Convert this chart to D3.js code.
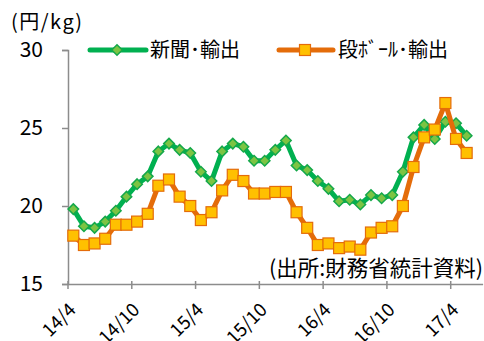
<!DOCTYPE html>
<html>
<head>
<meta charset="utf-8">
<script src="https://cdn.jsdelivr.net/npm/d3@7"></script>
<style>
  body { margin: 0; background: #fff; }
  svg { display: block; }
  text { font-family: "Noto Sans CJK JP", "Noto Sans", sans-serif; fill: #000; }
</style>
</head>
<body>
<div id="chart"></div>
<script>
// monthly categories, 14/4 .. 17/6 (last one is empty)
const months = [
  "14/4","14/5","14/6","14/7","14/8","14/9","14/10","14/11","14/12","15/1","15/2","15/3",
  "15/4","15/5","15/6","15/7","15/8","15/9","15/10","15/11","15/12","16/1","16/2","16/3",
  "16/4","16/5","16/6","16/7","16/8","16/9","16/10","16/11","16/12","17/1","17/2","17/3",
  "17/4","17/5","17/6"
];
const tickLabels = ["14/4", "14/10", "15/4", "15/10", "16/4", "16/10", "17/4"];
const yTicks = [15, 20, 25, 30];

const newsprint = [
  19.8, 18.7, 18.6, 19.0, 19.7, 20.6, 21.4, 21.9, 23.5, 24.0, 23.6, 23.4,
  22.2, 21.6, 23.5, 24.0, 23.8, 22.9, 22.9, 23.6, 24.2, 22.6, 22.3, 21.6,
  21.1, 20.3, 20.4, 20.1, 20.7, 20.5, 20.7, 22.2, 24.4, 25.2, 24.3, 25.4,
  25.3, 24.5
];
const cardboard = [
  18.1, 17.5, 17.6, 17.9, 18.8, 18.8, 19.0, 19.5, 21.3, 21.7, 20.6, 20.0,
  19.1, 19.6, 21.0, 22.0, 21.6, 20.8, 20.8, 20.9, 20.9, 19.6, 18.6, 17.5,
  17.6, 17.3, 17.4, 17.2, 18.3, 18.6, 18.7, 20.0, 22.5, 24.4, 24.9, 26.6,
  24.3, 23.4
];
const seriesNames = ["新聞･輸出", "段ﾎﾞｰﾙ･輸出"];

const W = 484, H = 341;
const svg = d3.select("#chart").append("svg")
  .attr("width", W).attr("height", H);

const x = d3.scaleBand().domain(months).range([68, 482.6]).padding(0);
const y = d3.scaleLinear().domain([15, 30]).range([284, 50]);
const cx = (i) => x(months[i]) + x.bandwidth() / 2;

const axisColor = "#8c8c8c";

// y axis
const yAxis = svg.append("g")
  .attr("transform", "translate(68,0)")
  .call(d3.axisLeft(y).tickValues(yTicks).tickSize(6).tickPadding(19));
yAxis.select(".domain").attr("stroke", axisColor).attr("stroke-width", 1.5);
yAxis.selectAll(".tick line").attr("stroke", axisColor).attr("stroke-width", 1.5);
yAxis.selectAll(".tick text")
  .attr("font-size", "21px")
  .attr("font-family", "'Noto Sans CJK JP', sans-serif")
  .attr("fill", "#000");

// x axis
const xAxis = svg.append("g")
  .attr("transform", "translate(0,284)")
  .call(d3.axisBottom(x).tickValues(tickLabels).tickSize(5).tickSizeOuter(0));
xAxis.select(".domain").attr("stroke", axisColor).attr("stroke-width", 1.5);
xAxis.selectAll(".tick").attr("transform", (d) => `translate(${x(d)},0)`);
xAxis.selectAll(".tick line").attr("stroke", axisColor).attr("stroke-width", 1.5).attr("y1", -3);
xAxis.selectAll(".tick text")
  .attr("font-size", "18.5px")
  .attr("font-family", "'Noto Sans CJK JP', sans-serif")
  .attr("fill", "#000")
  .attr("text-anchor", "end")
  .attr("x", 0)
  .attr("y", 0)
  .attr("dy", null)
  .attr("transform", "translate(9,27) rotate(-45)");

// unit & source
svg.append("text").attr("x", 11).attr("y", 29).attr("font-size", "20px")
  .attr("letter-spacing", "1.5px").text("(円/kg)");
svg.append("text").attr("x", 483).attr("y", 276).attr("text-anchor", "end")
  .attr("font-size", "21.5px").text("(出所:財務省統計資料)");

const line = d3.line().x((d, i) => cx(i)).y((d) => y(d));

const green = { line: "#00b050", fill: "#7cc443", stroke: "#14a84a" };
const orange = { line: "#e46c0a", fill: "#ffc000", stroke: "#e46c0a" };

const diamond = d3.symbol().type(d3.symbolDiamond2).size(70);

function drawGreen(g, vals) {
  g.append("path").datum(vals).attr("d", line)
    .attr("fill", "none").attr("stroke", green.line).attr("stroke-width", 5)
    .attr("stroke-linejoin", "round");
  g.selectAll("path.mk").data(vals).join("path").attr("class", "mk")
    .attr("d", diamond)
    .attr("transform", (d, i) => `translate(${cx(i)},${y(d)})`)
    .attr("fill", green.fill).attr("stroke", green.stroke).attr("stroke-width", 1.5);
}
function drawOrange(g, vals) {
  g.append("path").datum(vals).attr("d", line)
    .attr("fill", "none").attr("stroke", orange.line).attr("stroke-width", 5)
    .attr("stroke-linejoin", "round");
  g.selectAll("rect").data(vals).join("rect")
    .attr("x", (d, i) => cx(i) - 5.5).attr("y", (d) => y(d) - 5.5)
    .attr("width", 11).attr("height", 11)
    .attr("fill", orange.fill).attr("stroke", orange.stroke).attr("stroke-width", 1.2);
}

drawGreen(svg.append("g"), newsprint);
drawOrange(svg.append("g"), cardboard);

// legend
const lg = svg.append("g");
lg.append("line").attr("x1", 90).attr("x2", 146).attr("y1", 50).attr("y2", 50)
  .attr("stroke", green.line).attr("stroke-width", 5).attr("stroke-linecap", "round");
lg.append("path").attr("d", diamond).attr("transform", "translate(117,50)")
  .attr("fill", green.fill).attr("stroke", green.stroke).attr("stroke-width", 1.5);
lg.append("text").attr("x", 150).attr("y", 57).attr("font-size", "20px").text(seriesNames[0]);

lg.append("line").attr("x1", 279).attr("x2", 333).attr("y1", 50).attr("y2", 50)
  .attr("stroke", orange.line).attr("stroke-width", 5).attr("stroke-linecap", "round");
lg.append("rect").attr("x", 299.5).attr("y", 44.5).attr("width", 11).attr("height", 11)
  .attr("fill", orange.fill).attr("stroke", orange.stroke).attr("stroke-width", 1.2);
lg.append("text").attr("x", 338).attr("y", 57).attr("font-size", "20px").text(seriesNames[1]);
</script>
</body>
</html>
